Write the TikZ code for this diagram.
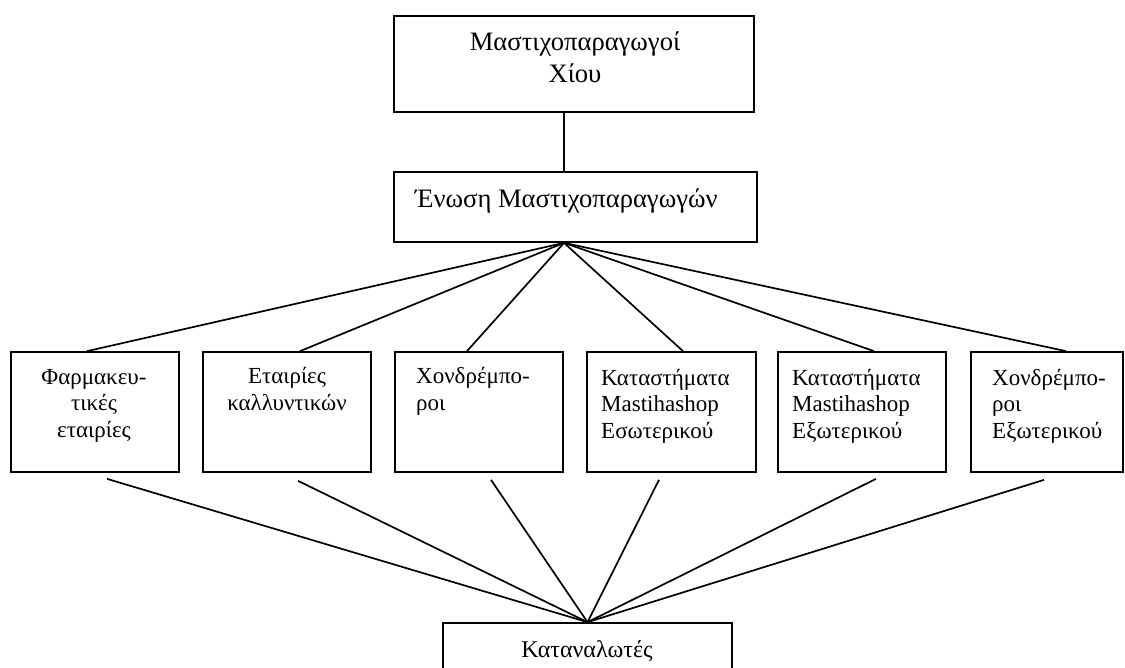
\documentclass[tikz,border=0pt]{standalone}
\usepackage{fontspec}
\setmainfont{Liberation Serif}
\begin{document}
\begin{tikzpicture}[x=1pt,y=-1pt,
  box/.style={draw, line width=1.7pt, rectangle, inner sep=0pt},
  link/.style={line width=1.7pt},
  bigtxt/.style={inner sep=0pt, font=\fontsize{26.6}{32}\selectfont},
  smalltxt/.style={inner sep=0pt, font=\fontsize{23}{26.5}\selectfont}]
\useasboundingbox (0,0) rectangle (1125,667);
\clip (0,0) rectangle (1125,667);

% boxes
\node[box, minimum width=360pt, minimum height=96pt] (top) at (574,64) {};
\node[box, minimum width=363pt, minimum height=70pt] (enosi) at (575.5,207) {};
\node[box, minimum width=168pt, minimum height=120pt] (b1) at (95,412) {};
\node[box, minimum width=168pt, minimum height=120pt] (b2) at (287,412) {};
\node[box, minimum width=168pt, minimum height=120pt] (b3) at (479,412) {};
\node[box, minimum width=169pt, minimum height=120pt] (b4) at (671.5,412) {};
\node[box, minimum width=168pt, minimum height=120pt] (b5) at (862,412) {};
\node[box, minimum width=152pt, minimum height=120pt] (b6) at (1047,412) {};
\node[box, minimum width=289pt, minimum height=70pt] (cons) at (587.5,658) {};

% texts (multi-line nodes sit on the baseline of their last line)
\node[bigtxt, align=center, anchor=base] (ttop) at (575,82) {Μαστιχοπαραγωγοί\\Χίου};
\node[bigtxt, anchor=base west] (tenosi) at (415,207) {Ένωση Μαστιχοπαραγωγών};
\node[smalltxt, align=center, anchor=base] (t1) at (94,437) {Φαρμακευ-\\τικές\\εταιρίες};
\node[smalltxt, align=center, anchor=base] (t2) at (287,410) {Εταιρίες\\καλλυντικών};
\node[smalltxt, align=left, anchor=base west] (t3) at (416,410) {Χονδρέμπο-\\ροι};
\node[smalltxt, align=left, anchor=base west] (t4) at (601,438) {Καταστήματα\\Mastihashop\\Εσωτερικού};
\node[smalltxt, align=left, anchor=base west] (t5) at (792,438) {Καταστήματα\\Mastihashop\\Εξωτερικού};
\node[smalltxt, align=left, anchor=base west] (t6) at (992,438) {Χονδρέμπο-\\ροι\\Εξωτερικού};
\node[inner sep=0pt, font=\fontsize{24}{29}\selectfont, anchor=base] (tcons) at (587,657) {Καταναλωτές};

% top connector
\coordinate (hub) at ([xshift=-11.5pt]enosi.south);
\draw[link] (hub |- top.south) -- (hub |- enosi.north);

% fan to the distributors
\draw[link] (hub) -- ([xshift=-8pt]b1.north);
\draw[link] (hub) -- ([xshift=13pt]b2.north);
\draw[link] (hub) -- ([xshift=-12pt]b3.north);
\draw[link] (hub) -- ([xshift=11.5pt]b4.north);
\draw[link] (hub) -- ([xshift=12pt]b5.north);
\draw[link] (hub) -- ([xshift=19pt]b6.north);

% fan to the consumers
\coordinate (e1) at ([xshift=12pt,yshift=-6pt]b1.south);
\coordinate (e2) at ([xshift=11pt,yshift=-8pt]b2.south);
\coordinate (e3) at ([xshift=12pt,yshift=-7pt]b3.south);
\coordinate (e4) at ([xshift=-12.5pt,yshift=-7pt]b4.south);
\coordinate (e5) at ([xshift=14pt,yshift=-6pt]b5.south);
\coordinate (e6) at ([xshift=-3pt,yshift=-7pt]b6.south);
\foreach \e in {e1,e2,e3,e4,e5,e6}
  \draw[link] (\e) -- (cons.north);
\end{tikzpicture}
\end{document}
